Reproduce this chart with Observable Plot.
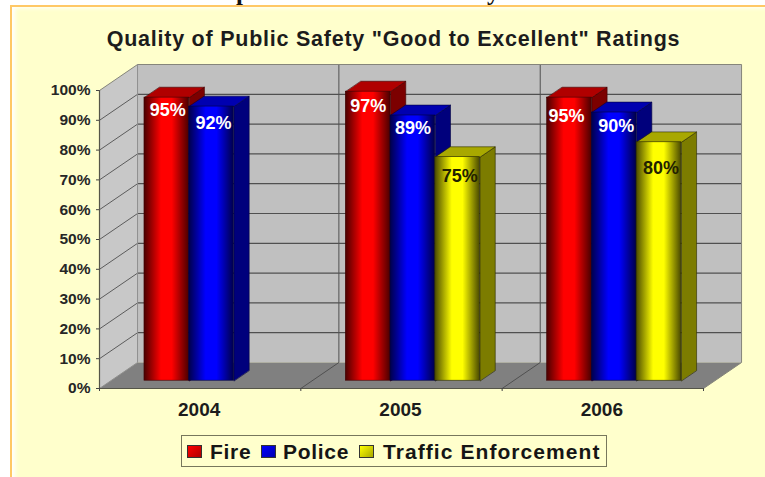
<!DOCTYPE html>
<html>
<head>
<meta charset="utf-8">
<script src="https://cdn.jsdelivr.net/npm/d3@7"></script>
<script src="https://cdn.jsdelivr.net/npm/@observablehq/plot@0.6"></script>
<style>
  html, body { margin: 0; padding: 0; background: #fff; overflow: hidden; }
  #page { position: relative; width: 765px; height: 477px; overflow: hidden; font-family: "Liberation Sans", Arial, sans-serif; }
  #panel { position: absolute; left: 10px; top: 5px; right: -4px; bottom: -4px; background: #ffffcc;
           border-left: 2px solid #ffc866; border-top: 2px solid #ffc866;
           box-shadow: inset 5px 3px 4px -2px #ffffff; }
  .cut { position: absolute; top: -22px; font: bold 25px "Liberation Serif", serif; color: #111; line-height: 27px; }
  #title { position: absolute; left: 0; width: 787px; top: 26px; text-align: center; font-weight: bold;
           font-size: 21.5px; line-height: 26px; color: #1c1c1c; letter-spacing: 0.76px; white-space: nowrap; }
  #chart { position: absolute; left: 0; top: 55px; }
  #legend { position: absolute; left: 181px; top: 435px; width: 424px; height: 30px; border: 1.5px solid #77775c; }
  .key { position: absolute; top: 9px; width: 13px; height: 11px; border: 1px solid #333; }
  .name { position: absolute; top: 2px; font-weight: bold; font-size: 21px; line-height: 28px; color: #151515; letter-spacing: 0.7px; white-space: nowrap; }
</style>
</head>
<body>
<div id="page">
  <span class="cut" style="left:236px">p</span>
  <span class="cut" style="left:487px">y</span>
  <div id="panel"></div>
  <div id="title">Quality of Public Safety "Good to Excellent" Ratings</div>
  <div id="chart"></div>
  <div id="legend"></div>
</div>
<script>
// Survey results: share of residents rating each service "good to excellent".
const years = ["2004", "2005", "2006"];
const services = ["Fire", "Police", "Traffic Enforcement"];
const fire = [95, 97, 95];
const police = [92, 89, 90];
const traffic = [null, 75, 80];
const yTicks = [0, 10, 20, 30, 40, 50, 60, 70, 80, 90, 100];

// Oblique projection: depth 0 is the front plane, depth 1 the back wall.
// Shifts are expressed in scale units (one year = 1, one percentage point = 1).
const depthX = 0.189;
const depthY = 8.72;
const at = (x, y, d = 0) => ({x: x + d * depthX, y: y + d * depthY});

const barWidth = 2 / 9;
const barStart = 1 / 6;
const depthFront = 0.3;
const depthBack = 0.7;

// Shades per series: gradient edge, gradient centre, top face, side face.
const palette = [
  {id: "fire", edge: "#4a0000", mid: "#ff0000", top: "#b00000", side: "#7c0000", line: "#400000", label: "#ffffff"},
  {id: "police", edge: "#00004a", mid: "#0000ff", top: "#0000b0", side: "#00007c", line: "#000040", label: "#ffffff"},
  {id: "traffic", edge: "#4a4a00", mid: "#ffff00", top: "#a8a800", side: "#7c7c00", line: "#2a2a00", label: "#222200"}
];
const seriesValues = [fire, police, traffic];

// Hand-placed label offsets: drop below the bar top in percentage points,
// sideways shift in fractions of a year.
const labelDrop = [
  [4.2, 5.0, 6.2],
  [5.7, 4.4, 4.7],
  [0, 6.4, 8.7]
];
const labelShift = [
  [0.005, 0, -0.015],
  [0.01, 0, 0.01],
  [0, 0.01, 0.01]
];

const bars = seriesValues.flatMap((values, s) =>
  values.flatMap((v, g) => v == null ? [] : [{
    s, g, v,
    left: g + barStart + s * barWidth,
    right: g + barStart + (s + 1) * barWidth
  }])
);

// A closed polygon for one face, tagged so several can share a line mark.
const polygon = (key, points) => points.map((p) => ({...p, key}));

const topFaces = (s) => bars.filter((b) => b.s === s).flatMap((b) => polygon(b.g, [
  at(b.left, b.v, depthFront), at(b.right, b.v, depthFront), at(b.right, b.v, depthBack), at(b.left, b.v, depthBack)
]));
const sideFaces = (s) => bars.filter((b) => b.s === s).flatMap((b) => polygon(b.g, [
  at(b.right, 0, depthFront), at(b.right, b.v, depthFront), at(b.right, b.v, depthBack), at(b.right, 0, depthBack)
]));

const face = (points, fill) => Plot.line(points, {x: "x", y: "y", fill, stroke: "none", curve: "linear-closed"});
const faces = (points, fill, stroke) => Plot.line(points, {x: "x", y: "y", z: "key", fill, stroke, strokeWidth: 0.6, curve: "linear-closed"});

const gradients = () => {
  const defs = d3.create("svg:defs");
  for (const c of palette) {
    const g = defs.append("linearGradient").attr("id", "grad-" + c.id);
    g.append("stop").attr("offset", "0%").attr("stop-color", c.edge);
    g.append("stop").attr("offset", "38%").attr("stop-color", c.mid);
    g.append("stop").attr("offset", "62%").attr("stop-color", c.mid);
    g.append("stop").attr("offset", "100%").attr("stop-color", c.edge);
  }
  return defs.node();
};

const wallLines = yTicks.slice(1, -1);
const dividers = [1, 2];

const barMarks = palette.flatMap((c, s) => {
  const own = bars.filter((b) => b.s === s);
  return [
    faces(sideFaces(s), c.side, c.line),
    faces(topFaces(s), c.top, c.line),
    Plot.rect(own, {
      x1: (b) => at(b.left, 0, depthFront).x,
      x2: (b) => at(b.right, 0, depthFront).x,
      y1: () => depthFront * depthY,
      y2: (b) => b.v + depthFront * depthY,
      fill: `url(#grad-${c.id})`,
      stroke: c.line,
      strokeWidth: 0.6
    })
  ];
});

const labelMarks = bars.map((b) => Plot.text([b], {
  x: (d) => (d.left + d.right) / 2 + depthFront * depthX + labelShift[d.s][d.g],
  y: (d) => d.v + depthFront * depthY - labelDrop[d.s][d.g],
  text: (d) => d.v + "%",
  fill: palette[b.s].label,
  fontSize: 18,
  fontWeight: "bold"
}));

const chart = Plot.plot({
  width: 765,
  height: 370,
  marginLeft: 99,
  marginRight: 62,
  marginTop: 35,
  marginBottom: 37,
  style: {background: "transparent", overflow: "visible", fontFamily: "'Liberation Sans', Arial, sans-serif"},
  x: {type: "linear", domain: [0, 3], axis: null},
  y: {type: "linear", domain: [0, 100], axis: null},
  marks: [
    gradients,
    // Left wall, back wall and floor of the box
    face([at(0, 0), at(0, 100), at(0, 100, 1), at(0, 0, 1)], "#c8c8c8"),
    face([at(0, 0, 1), at(0, 100, 1), at(3, 100, 1), at(3, 0, 1)], "#c0c0c0"),
    face([at(0, 0), at(3, 0), at(3, 0, 1), at(0, 0, 1)], "#808080"),
    // Gridlines on the back wall and their continuation down the left wall
    Plot.ruleY(wallLines, {y: (d) => d + depthY, x1: depthX, x2: 3 + depthX, stroke: "#505050", strokeWidth: 1.2}),
    Plot.line(wallLines.flatMap((d) => polygon(d, [at(0, d), at(0, d, 1)])), {x: "x", y: "y", z: "key", stroke: "#5c5c5c", strokeWidth: 1}),
    // Year dividers on the back wall and floor
    Plot.line(dividers.flatMap((d) => polygon(d, [at(d, 100, 1), at(d, 0, 1), at(d, 0)])), {x: "x", y: "y", z: "key", stroke: "#505050", strokeWidth: 1}),
    // Box outline
    Plot.line([at(0, 100), at(0, 100, 1), at(3, 100, 1), at(3, 0, 1), at(3, 0)], {x: "x", y: "y", stroke: "#85857a", strokeWidth: 1}),
    Plot.line([at(0, 0), at(0, 0, 1), at(0, 100, 1)], {x: "x", y: "y", stroke: "#8e8e8e", strokeWidth: 1}),
    ...barMarks,
    ...labelMarks,
    Plot.ruleX([0], {y1: 0, y2: 100, stroke: "#555548", strokeWidth: 1.2}),
    Plot.ruleY([0], {x1: 0, x2: 3, stroke: "#555548", strokeWidth: 1.2}),
    Plot.axisY({ticks: yTicks, tickFormat: (d) => d + "%", tickSize: 3, tickPadding: 6, label: null, stroke: "#444", fill: "#262626", fontSize: 15.5, fontWeight: "bold"}),
    Plot.axisX({ticks: [0, 1, 2, 3], tickFormat: () => "", tickSize: 3, label: null, stroke: "#444"}),
    Plot.text(years, {x: (d, i) => i + 0.495, y: () => 0, dy: 21, fill: "#1c1c1c", fontSize: 19, fontWeight: "bold"})
  ]
});
document.getElementById("chart").append(chart);

// Legend entries, in series order
const legend = d3.select("#legend");
const keyLeft = [5, 79, 177];
const nameLeft = [28, 101, 201];
const nameSpacing = [0.7, 0.7, 1.07];
services.forEach((name, i) => {
  const c = palette[i];
  legend.append("div").attr("class", "key").style("left", keyLeft[i] + "px")
    .style("background", `linear-gradient(135deg, ${c.mid}, ${c.top})`);
  legend.append("div").attr("class", "name").style("left", nameLeft[i] + "px")
    .style("letter-spacing", nameSpacing[i] + "px").text(name);
});
</script>
</body>
</html>
